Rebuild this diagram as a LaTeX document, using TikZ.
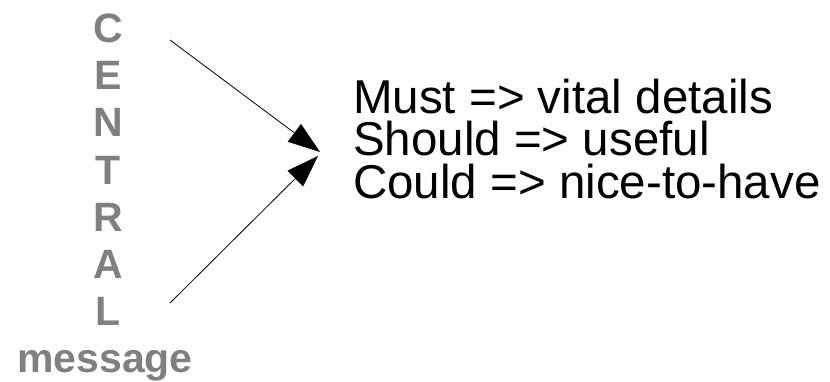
\documentclass[tikz,border=0pt]{standalone}
\usepackage{fontspec}
\setmainfont{Liberation Sans}
\usetikzlibrary{arrows.meta}
\definecolor{lettergray}{RGB}{128,128,128}
\begin{document}
\begin{tikzpicture}[x=1pt,y=1pt,
  letter/.style={font=\fontsize{41}{41}\selectfont\bfseries, text=lettergray, inner sep=0pt, anchor=base},
  rules/.style={font=\fontsize{47.5}{42.5}\selectfont, text=black, inner sep=0pt, align=left, anchor=base west},
  conn/.style={line width=0.8pt, -{Triangle[length=32pt,width=22pt]}}]
\useasboundingbox (0,0) rectangle (830,381);
\node[letter] (c) at (108,381-43) {C};
\node[letter] (e) at (108,381-90) {E};
\node[letter] (n) at (108,381-137) {N};
\node[letter] (t) at (108,381-184) {T};
\node[letter] (r) at (108,381-231) {R};
\node[letter] (a) at (108,381-278) {A};
\node[letter] (l) at (108,381-325) {L};
\node[letter] (msg) at (105,381-372) {message};
\node[rules] (list) at (353,381-198) {Must => vital details\\Should => useful\\Could => nice-to-have};
\coordinate (s1) at (170,381-40);
\coordinate (s2) at (170,381-303);
\coordinate (t1) at (320,381-152);
\coordinate (t2) at (318,381-156);
\draw[conn] (s1) -- (t1);
\draw[conn] (s2) -- (t2);
\end{tikzpicture}
\end{document}
